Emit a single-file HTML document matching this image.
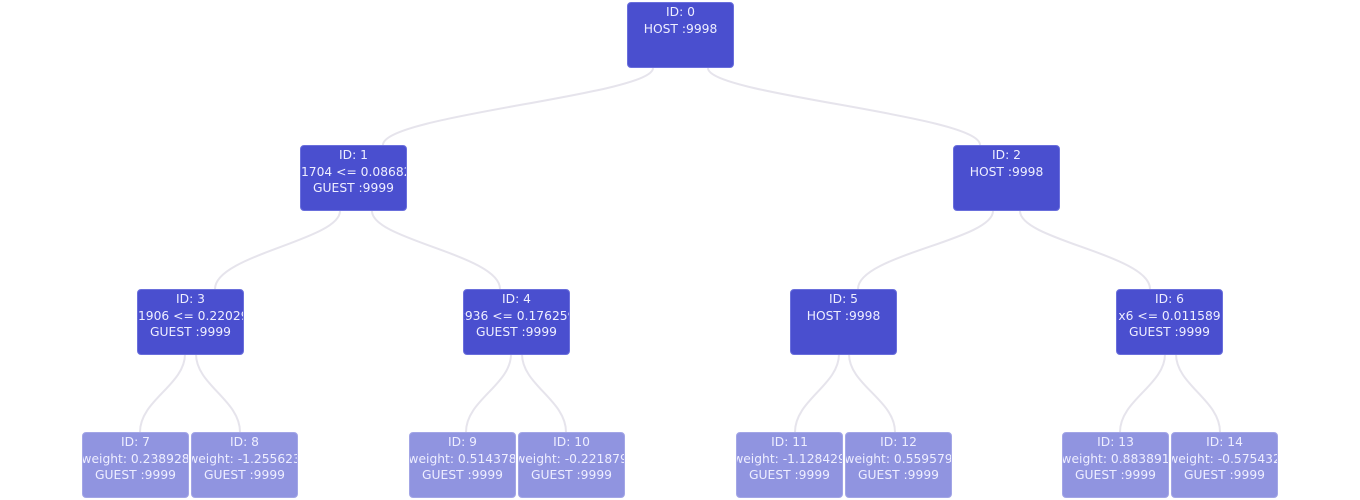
<!DOCTYPE html>
<html><head><meta charset="utf-8"><style>
body{margin:0;width:1360px;height:500px;background:#fff;position:relative;overflow:hidden;font-family:"DejaVu Sans","Liberation Sans",sans-serif;}
svg{position:absolute;left:0;top:0}
.n{position:absolute;width:107px;height:66px;border-radius:4px;background:#4a4fcf;color:#eef;font-size:12.3px;line-height:16.5px;text-align:center;overflow:hidden;white-space:nowrap;box-sizing:border-box;padding-top:1px;border:1px solid #6a6fdc}
.n span{display:block;position:relative;left:50%;transform:translateX(-50%);width:max-content}
.l{background:#9094e0;border-color:#a3a6e6}
</style></head><body>
<svg width="1360" height="500" fill="none" stroke="#e6e4ec" stroke-width="2">
<path d="M653,68 C653,95 383,115 383,145"/>
<path d="M708,68 C708,95 980,115 980,145"/>
<path d="M340,211 C340,240 215,255 215,289"/>
<path d="M372,211 C372,240 500,255 500,289"/>
<path d="M993,211 C993,240 858,255 858,289"/>
<path d="M1020,211 C1020,240 1150,255 1150,289"/>
<path d="M185,354 C185,385 140,400 140,432"/>
<path d="M196,354 C196,385 240,400 240,432"/>
<path d="M511,354 C511,385 466,400 466,432"/>
<path d="M522,354 C522,385 566,400 566,432"/>
<path d="M839,354 C839,385 795,400 795,432"/>
<path d="M849,354 C849,385 895,400 895,432"/>
<path d="M1165,354 C1165,385 1120,400 1120,432"/>
<path d="M1176,354 C1176,385 1220,400 1220,432"/>
</svg>
<div class="n" style="left:627px;top:2px"><span>ID: 0</span><span>HOST :9998</span></div>
<div class="n" style="left:300px;top:145px"><span>ID: 1</span><span style="margin-left:3px">x1704 &lt;= 0.086823</span><span>GUEST :9999</span></div>
<div class="n" style="left:953px;top:145px"><span>ID: 2</span><span>HOST :9998</span></div>
<div class="n" style="left:137px;top:289px"><span>ID: 3</span><span style="margin-left:3px">x1906 &lt;= 0.220294</span><span>GUEST :9999</span></div>
<div class="n" style="left:463px;top:289px"><span>ID: 4</span><span>x936 &lt;= 0.176259</span><span>GUEST :9999</span></div>
<div class="n" style="left:790px;top:289px"><span>ID: 5</span><span>HOST :9998</span></div>
<div class="n" style="left:1116px;top:289px"><span>ID: 6</span><span>x6 &lt;= 0.011589</span><span>GUEST :9999</span></div>
<div class="n l" style="left:82px;top:432px"><span>ID: 7</span><span>weight: 0.238928</span><span>GUEST :9999</span></div>
<div class="n l" style="left:191px;top:432px"><span>ID: 8</span><span>weight: -1.255623</span><span>GUEST :9999</span></div>
<div class="n l" style="left:409px;top:432px"><span>ID: 9</span><span>weight: 0.514378</span><span>GUEST :9999</span></div>
<div class="n l" style="left:518px;top:432px"><span>ID: 10</span><span>weight: -0.221879</span><span>GUEST :9999</span></div>
<div class="n l" style="left:736px;top:432px"><span>ID: 11</span><span>weight: -1.128429</span><span>GUEST :9999</span></div>
<div class="n l" style="left:845px;top:432px"><span>ID: 12</span><span>weight: 0.559579</span><span>GUEST :9999</span></div>
<div class="n l" style="left:1062px;top:432px"><span>ID: 13</span><span>weight: 0.883891</span><span>GUEST :9999</span></div>
<div class="n l" style="left:1171px;top:432px"><span>ID: 14</span><span>weight: -0.575432</span><span>GUEST :9999</span></div>
</body></html>
